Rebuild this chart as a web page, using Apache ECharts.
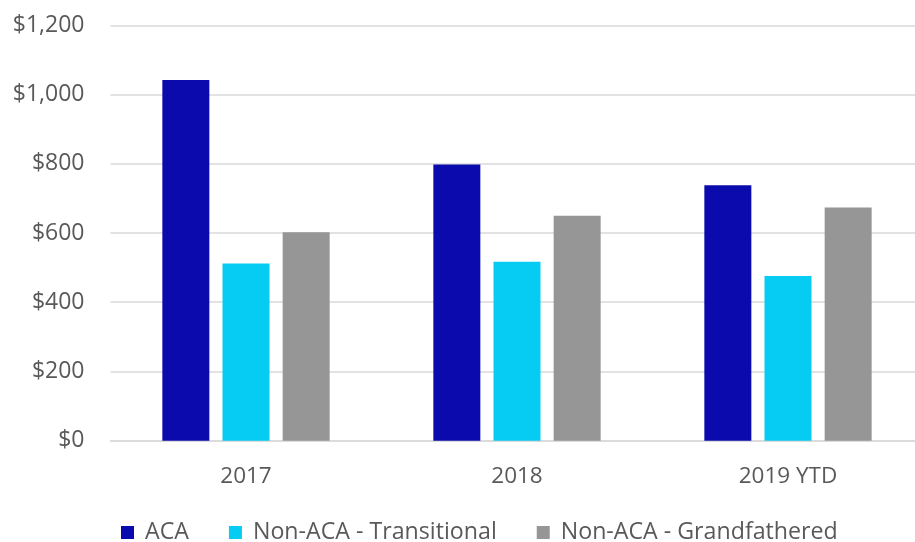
<!DOCTYPE html>
<html>
<head>
<meta charset="utf-8">
<script src="https://cdn.jsdelivr.net/npm/echarts@6/dist/echarts.min.js"></script>
<style>
    html, body { margin: 0; padding: 0; background: #fff; }
    #chart { width: 915px; height: 542px; }
</style>
</head>
<body>
<div id="chart"></div>
<script>
// values
var years = ['2017', '2018', '2019 YTD'];
var seriesNames = ['ACA', 'Non-ACA - Transitional', 'Non-ACA - Grandfathered'];
var acaValues = [1042, 798, 738];
var transitionalValues = [512, 517, 476];
var grandfatheredValues = [602, 650, 674];
var yTicks = [0, 200, 400, 600, 800, 1000, 1200];

var colors = ['#0a0aad', '#06cbf2', '#969696'];
var textColor = '#595959';
var font = '"Open Sans", "Noto Sans", sans-serif';

function money(v) {
    return '$' + String(v).replace(/\B(?=(\d{3})+(?!\d))/g, ',');
}

var chart = echarts.init(document.getElementById('chart'));

var allValues = [acaValues, transitionalValues, grandfatheredValues];
var series = [];
for (var i = 0; i < seriesNames.length; i++) {
    series.push({
        name: seriesNames[i],
        type: 'bar',
        data: allValues[i],
        barWidth: 47,
        barGap: '28%',
        itemStyle: { color: colors[i] }
    });
}

chart.setOption({
    animation: false,
    color: colors,
    // plot runs past the right edge of the picture, like the cropped original
    grid: {
        left: 110.5,
        width: 813,
        top: 25.3,
        height: 415.4,
        containLabel: false,
        outerBoundsMode: 'none'
    },
    legend: {
        data: seriesNames,
        top: 521,
        left: 121,
        padding: 0,
        itemWidth: 13,
        itemHeight: 13,
        itemGap: 40,
        icon: 'rect',
        textStyle: {
            color: textColor,
            fontSize: 23.2,
            fontFamily: font,
            padding: [0, 0, 0, 6]
        }
    },
    xAxis: {
        type: 'category',
        data: years,
        axisTick: { show: false },
        axisLine: { lineStyle: { color: '#d9d9d9', width: 1.5 } },
        axisLabel: {
            color: textColor,
            fontSize: 22.5,
            fontFamily: font,
            margin: 24.5
        }
    },
    yAxis: {
        type: 'value',
        min: yTicks[0],
        max: yTicks[yTicks.length - 1],
        interval: yTicks[1] - yTicks[0],
        axisLine: { show: false },
        axisTick: { show: false },
        splitLine: { lineStyle: { color: '#d9d9d9', width: 1.5 } },
        axisLabel: {
            color: textColor,
            fontSize: 23,
            fontFamily: font,
            margin: 26,
            formatter: money
        }
    },
    series: series
});
</script>
</body>
</html>
